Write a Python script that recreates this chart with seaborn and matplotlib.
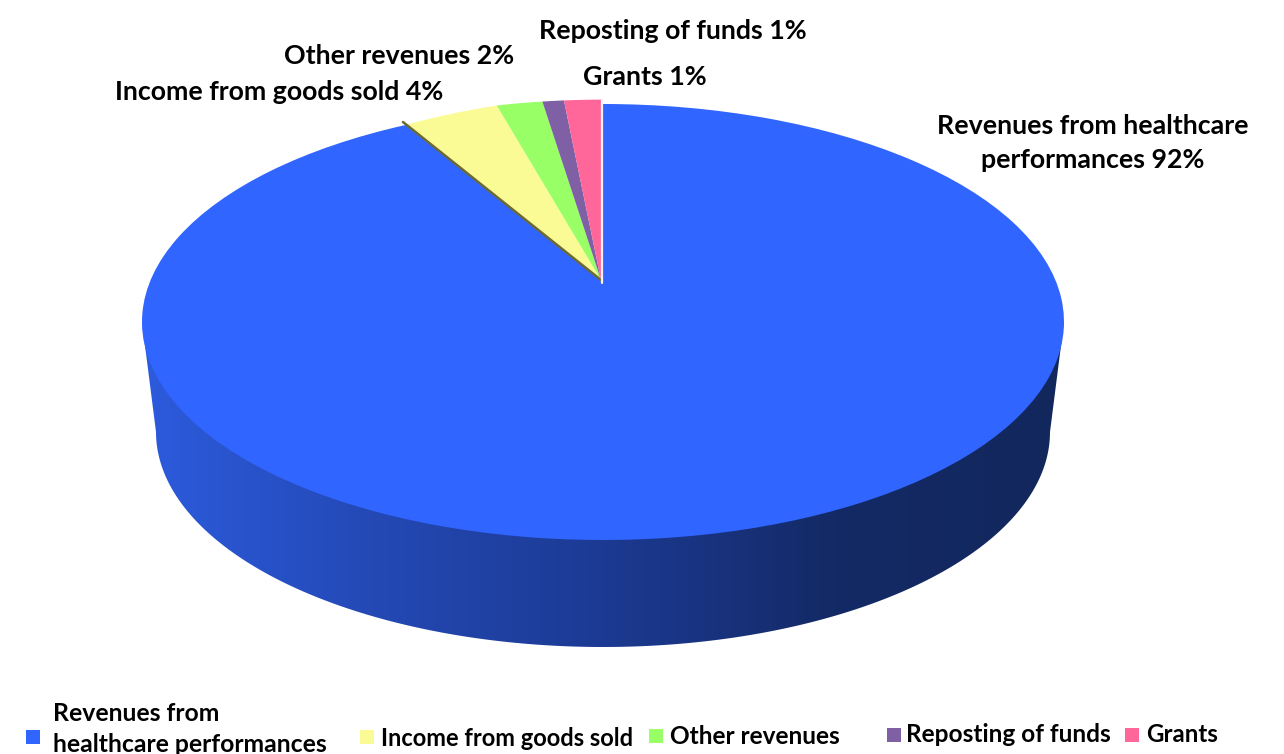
import numpy as np
import matplotlib
matplotlib.use('Agg')
import matplotlib.pyplot as plt
from matplotlib.patches import Polygon
import seaborn as sns

# %%
# data
categories = ['Revenues from healthcare performances', 'Income from goods sold',
              'Other revenues', 'Reposting of funds', 'Grants']
# printed percentages
percents = [92, 4, 2, 1, 1]
# angular share each slice really takes up in the drawing
slice_shares = [93.0, 3.3, 1.6, 0.75, 1.35]
slice_colors = ['#3065ff', '#fbfb96', '#99ff66', '#7f60a4', '#ff6699']
wall_colors = ['#2c5bdd', '#2449b5', '#1c3a93', '#142a66', '#12275c']

pie_labels = ['Revenues from healthcare\nperformances 92%', 'Income from goods sold 4%',
              'Other revenues 2%', 'Reposting of funds 1%', 'Grants 1%']
legend_labels = ['Revenues from\nhealthcare performances', 'Income from goods sold',
                 'Other revenues', 'Reposting of funds', 'Grants']

# %%
# layout in pixels of the 1284x754 canvas
W, H = 1284, 754
cx, cy, rx, ry = 603, 322, 461, 218
apex = (601, 280)
low_cy, low_rx, low_ry = 432, 447, 215

pie_label_pos = [(1093, 143), (279, 92), (399, 56), (673, 31), (645, 77)]
legend_box_pos = [(33, 737), (367, 737), (656, 736), (894, 735), (1132, 735)]
legend_text_pos = [(53, 729), (381, 738), (670, 737), (906, 735), (1146, 735)]
legend_sizes = [17.8, 17, 17.6, 17.6, 17.3]

def to_x(px):
    return (px - cx) / rx

def to_y(py):
    return (cy - py) / ry

sns.set_theme(style='white')
plt.rcParams['font.family'] = ['Lato', 'DejaVu Sans']

fig = plt.figure(figsize=(W / 100, H / 100), dpi=100)
ax = fig.add_axes([0, 0, 1, 1])

# %%
# side wall of the disc, shaded from left to right
t = np.linspace(np.pi, 2 * np.pi, 200)
low_x = cx + low_rx * np.cos(t)
low_y = low_cy - low_ry * np.sin(t)
wall_x = np.r_[cx - rx, low_x, cx + rx]
wall_y = np.r_[cy, low_y, cy]
wall = Polygon(np.c_[to_x(wall_x), to_y(wall_y)], closed=True, transform=ax.transData,
               fc='none', ec='none')
ax.add_patch(wall)
cmap = sns.blend_palette(wall_colors, as_cmap=True)
img = ax.imshow(np.linspace(0, 1, 512)[None, :], cmap=cmap, aspect='auto',
                extent=[to_x(cx - rx), to_x(cx + rx), to_y(660), to_y(300)], zorder=1)
img.set_clip_path(wall)

# %%
# top face
wedges, _ = ax.pie(slice_shares, colors=slice_colors, startangle=90, counterclock=False,
                   wedgeprops={'linewidth': 0, 'zorder': 2})
for i, w in enumerate(wedges):
    verts = w.get_path().vertices
    centre = np.hypot(verts[:, 0], verts[:, 1]) < 0.01
    if i > 0:
        # the small slices sit slightly proud of the rim
        verts[:, 1] += 0.02 * np.clip((verts[:, 0] - to_x(403)) / 0.2, 0, 1)
    verts[centre] = (to_x(apex[0]), to_y(apex[1]))

ax.plot([to_x(403), to_x(apex[0])], [to_y(122), to_y(apex[1])], color='#6b6a30', lw=1.8, zorder=3)
ax.plot([to_x(601.5), to_x(601.5)], [to_y(100), to_y(283)], color='#fdf0f0', lw=1.6, zorder=3)

# %%
# labels
ax.text(to_x(pie_label_pos[0][0]), to_y(pie_label_pos[0][1]), pie_labels[0], ha='center', va='center',
        fontsize=19.3, fontweight='bold', color='black', linespacing=1.5, zorder=4)
for (px, py), lab in zip(pie_label_pos[1:], pie_labels[1:]):
    ax.text(to_x(px), to_y(py), lab, ha='center', va='center', fontsize=19.3,
            fontweight='bold', color='black', zorder=4)

# legend, spaced by hand as in the original
for (bx, by), (tx, ty), col, lab, fs in zip(legend_box_pos, legend_text_pos, slice_colors,
                                            legend_labels, legend_sizes):
    ax.scatter(to_x(bx), to_y(by), marker='s', s=115, color=col, linewidths=0, zorder=4)
    ax.text(to_x(tx), to_y(ty), lab, ha='left', va='center', fontsize=fs, fontweight='bold',
            color='black', linespacing=1.4, zorder=4)

ax.set_aspect('auto')
ax.set_xlim(to_x(0), to_x(W))
ax.set_ylim(to_y(H), to_y(0))
ax.axis('off')

fig.savefig('out.png', dpi=100)
